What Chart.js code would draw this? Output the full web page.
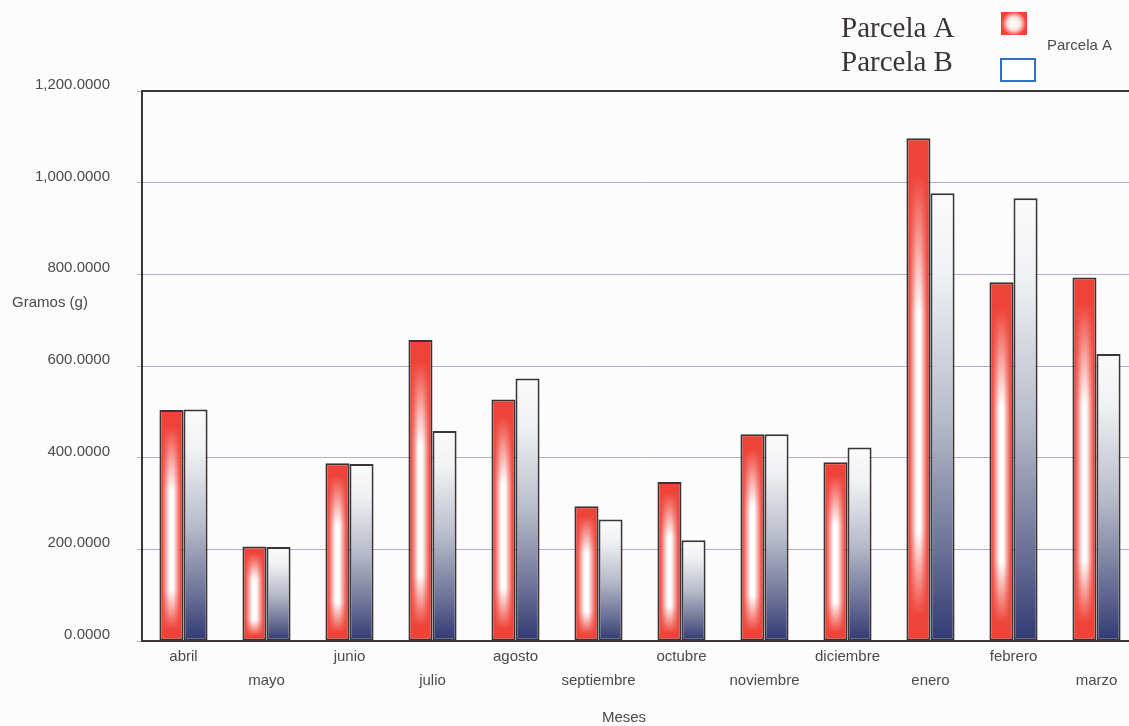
<!DOCTYPE html>
<html>
<head>
<meta charset="utf-8">
<script src="https://cdn.jsdelivr.net/npm/chart.js@4.4.1/dist/chart.umd.min.js"></script>
<style>
  html, body { margin: 0; padding: 0; overflow: hidden; background: #fcfcfc; }
  canvas { display: block; }
</style>
</head>
<body>
<canvas id="c" width="1140" height="726"></canvas>
<script>
// Monthly production per plot, in grams
const meses = ['abril', 'mayo', 'junio', 'julio', 'agosto', 'septiembre', 'octubre', 'noviembre', 'diciembre', 'enero', 'febrero', 'marzo'];
const parcelaA = [504, 206, 388, 657, 527, 294, 347, 451, 390, 1097, 783, 793];
const parcelaB = [505, 205, 386, 458, 573, 265, 220, 451, 422, 977, 966, 626];
const yTicks = [0, 200, 400, 600, 800, 1000, 1200];
const seriesNames = ['Parcela A', 'Parcela B'];
const yTitle = 'Gramos (g)';
const xTitle = 'Meses';

const RED = '#ef4339';
const INK = '#3b3434';
const TEXT = '#4a4a4a';
const CAT_PCT = 0.58;
const SANS = '"Liberation Sans", Arial, sans-serif';
const SERIF = '"Liberation Serif", "Times New Roman", serif';

// Pixel box of a bar, taken from the chart's own scales
function barBox(ctx, side) {
  const xs = ctx.chart.scales.x, ys = ctx.chart.scales.y;
  if (!xs || !ys) return null;
  const cx = xs.getPixelForValue(ctx.dataIndex);
  const catW = xs.width / meses.length;
  const bw = catW * CAT_PCT / 2;
  const top = ys.getPixelForValue(ctx.raw);
  const bottom = ys.getPixelForValue(0);
  if (![cx, bw, top, bottom].every(Number.isFinite) || bottom - top <= 0) return null;
  return { left: side === 0 ? cx - bw : cx, top, w: bw, h: bottom - top };
}

// Red bars: white core fading to red at the sides, top and bottom
function redFill(ctx) {
  const b = barBox(ctx, 0);
  if (!b) return RED;
  const w = Math.max(2, Math.round(b.w)), h = Math.max(2, Math.round(b.h));
  const off = document.createElement('canvas');
  off.width = w; off.height = h;
  const o = off.getContext('2d');
  const gx = o.createLinearGradient(0, 0, w, 0);
  gx.addColorStop(0, RED); gx.addColorStop(0.1, RED);
  gx.addColorStop(0.25, '#f79a94');
  gx.addColorStop(0.42, '#ffffff'); gx.addColorStop(0.58, '#ffffff');
  gx.addColorStop(0.75, '#f79a94');
  gx.addColorStop(0.9, RED); gx.addColorStop(1, RED);
  o.fillStyle = gx; o.fillRect(0, 0, w, h);
  const gy = o.createLinearGradient(0, 0, 0, h);
  gy.addColorStop(0, 'rgba(239,67,57,1)');
  gy.addColorStop(0.07, 'rgba(239,67,57,1)');
  gy.addColorStop(0.35, 'rgba(239,67,57,0)');
  gy.addColorStop(0.78, 'rgba(239,67,57,0)');
  gy.addColorStop(0.95, 'rgba(239,67,57,1)');
  gy.addColorStop(1, 'rgba(239,67,57,1)');
  o.fillStyle = gy; o.fillRect(0, 0, w, h);
  const pat = ctx.chart.ctx.createPattern(off, 'repeat');
  pat.setTransform(new DOMMatrix().translate(b.left, b.top));
  return pat;
}

// Blue bars: white at the top darkening to navy at the base
function blueFill(ctx) {
  const b = barBox(ctx, 1);
  if (!b) return '#b4b8c7';
  const g = ctx.chart.ctx.createLinearGradient(0, b.top, 0, b.top + b.h);
  g.addColorStop(0, '#fbfbfb');
  g.addColorStop(0.18, '#f0f1f3');
  g.addColorStop(0.5, '#b8bcca');
  g.addColorStop(0.8, '#6b7096');
  g.addColorStop(1, '#303a74');
  return g;
}

// Frame top, legend and free-standing titles
const decorations = {
  id: 'decorations',
  afterDraw(chart) {
    const c = chart.ctx, a = chart.chartArea;
    c.save();
    // top frame line
    c.strokeStyle = INK; c.lineWidth = 2;
    c.beginPath(); c.moveTo(a.left - 1, a.top); c.lineTo(a.right, a.top); c.stroke();

    // legend texts
    c.fillStyle = INK;
    c.font = '29px ' + SERIF;
    c.textAlign = 'left'; c.textBaseline = 'alphabetic';
    c.fillText(seriesNames[0], 841, 37);
    c.fillText(seriesNames[1], 841, 71);

    // legend swatch A
    const sx = 1001, sy = 12, sw = 26, sh = 23;
    const rg = c.createRadialGradient(sx + sw / 2, sy + sh / 2, 1.5, sx + sw / 2, sy + sh / 2, 14);
    rg.addColorStop(0, '#ffffff');
    rg.addColorStop(0.4, '#fbe1de');
    rg.addColorStop(0.85, RED);
    rg.addColorStop(1, RED);
    c.fillStyle = rg; c.fillRect(sx, sy, sw, sh);

    // legend swatch B
    c.fillStyle = '#ffffff'; c.fillRect(1001, 59, 34, 22);
    c.strokeStyle = '#2f6fc4'; c.lineWidth = 2;
    c.strokeRect(1001, 59, 34, 22);

    // small legend caption
    c.fillStyle = TEXT;
    c.font = '15px ' + SANS;
    c.fillText(seriesNames[0], 1047, 50);

    // axis titles
    c.textAlign = 'center'; c.textBaseline = 'middle';
    c.fillText(yTitle, 50, 303);
    c.fillText(xTitle, 624, 718);
    c.restore();
  }
};

Chart.defaults.font.family = SANS;
Chart.defaults.color = TEXT;

new Chart(document.getElementById('c'), {
  type: 'bar',
  data: {
    labels: meses,
    datasets: [
      { label: seriesNames[0], data: parcelaA, backgroundColor: redFill },
      { label: seriesNames[1], data: parcelaB, backgroundColor: blueFill }
    ]
  },
  options: {
    responsive: false,
    animation: false,
    devicePixelRatio: 1,
    layout: { padding: { top: 91, right: 2, left: 0, bottom: 0 } },
    datasets: {
      bar: {
        categoryPercentage: CAT_PCT,
        barPercentage: 1,
        borderColor: INK,
        borderWidth: 2,
        borderSkipped: false
      }
    },
    plugins: { legend: { display: false }, tooltip: { enabled: false } },
    scales: {
      x: {
        afterFit(s) { s.height = 85; },
        grid: { display: false },
        border: { display: true, color: INK, width: 2 },
        ticks: {
          autoSkip: false, maxRotation: 0, minRotation: 0,
          padding: -4,
          font: { size: 15, lineHeight: 1.6 },
          color: TEXT,
          callback: (v, i) => (i % 2 ? ['', meses[i]] : meses[i])
        }
      },
      y: {
        min: yTicks[0], max: yTicks[yTicks.length - 1],
        afterFit(s) { s.width = 142; },
        afterBuildTicks(s) { s.ticks = yTicks.map(v => ({ value: v })); },
        grid: { color: '#b6abcc', lineWidth: 1, drawTicks: true, tickLength: 5 },
        border: { display: true, color: INK, width: 2 },
        ticks: {
          padding: 27,
          labelOffset: -6,
          font: { size: 15 },
          color: TEXT,
          callback: v => v.toLocaleString('en-US', { minimumFractionDigits: 4, maximumFractionDigits: 4 })
        }
      }
    }
  },
  plugins: [decorations]
});
</script>
</body>
</html>
